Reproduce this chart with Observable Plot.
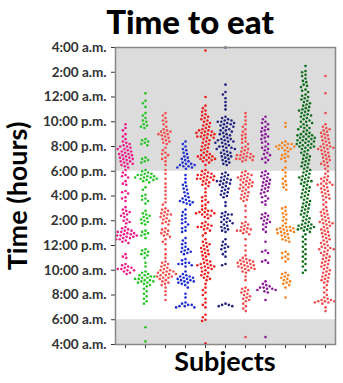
<!DOCTYPE html>
<html><head><meta charset="utf-8">
<script src="https://cdn.jsdelivr.net/npm/d3@7"></script>
<script src="https://cdn.jsdelivr.net/npm/@observablehq/plot@0.6"></script>
<style>
body{margin:0;background:#fff;font-family:Lato,"Open Sans",sans-serif}
#wrap{position:relative;width:343px;height:383px;overflow:hidden}
#title{position:absolute;left:0;top:3px;width:380px;text-align:center;font-size:33px;line-height:36px;font-weight:900;color:#000}
#ylab{position:absolute;left:-83px;top:181px;width:200px;height:30px;line-height:30px;text-align:center;font-size:27px;font-weight:700;color:#000;transform:rotate(-90deg)}
#xlab{position:absolute;left:111px;top:346px;width:228px;text-align:center;font-size:27px;line-height:30px;font-weight:700;color:#000}
#chart{position:absolute;left:0;top:40px}
</style></head>
<body><div id="wrap"><div id="title">Time to eat</div><div id="chart"></div><div id="ylab">Time (hours)</div><div id="xlab">Subjects</div></div>
<script>
const subjects = ["1","2","3","4","5","6","7","8","9","10","11"];
const colors = ["#ec1c8c","#27c427","#f0504e","#1f2fd0","#ee1f1f","#1f237f","#ef4d4d","#8b1a9a","#f7831f","#0f6e1a","#ef4d4d"];
const yTicks = [4,6,8,10,12,14,16,18,20,22,24,26,28];
const yTickLabels = ["4:00 a.m.","6:00 a.m.","8:00 a.m.","10:00 a.m.","12:00 p.m.","2:00 p.m.","4:00 p.m.","6:00 p.m.","8:00 p.m.","10:00 p.m.","12:00 a.m.","2:00 a.m.","4:00 a.m."];
const shaded = [{from: 18, to: 28}, {from: 4, to: 6}];

const s1 = [21.8,21.5,21.3,21.0,20.8,20.6,20.4,20.3,20.2,20.1,20.0,20.0,19.9,19.8,19.8,19.7,19.6,19.6,19.5,19.4,19.4,19.3,19.3,19.2,19.1,19.1,19.0,19.0,18.9,18.8,18.8,18.7,18.6,18.6,18.5,18.4,18.3,18.1,17.9,17.7,17.6,17.5,17.2,17.0,16.9,16.4,16.3,16.2,15.9,15.8,15.6,15.1,14.9,14.8,14.7,14.6,14.5,14.4,14.3,14.1,14.0,13.9,13.8,13.5,13.4,13.3,13.2,13.2,13.1,13.1,13.0,13.0,12.9,12.9,12.8,12.8,12.8,12.7,12.7,12.6,12.6,12.5,12.5,12.4,12.3,12.2,11.3,11.1,11.0,10.5,10.4,10.3,10.2,10.2,10.1,10.1,10.0,10.0,9.9,9.8,9.7];
const s2 = [24.3,23.7,23.5,23.2,22.7,22.5,22.3,22.1,22.0,21.8,21.7,21.6,21.5,20.6,20.5,20.4,20.3,20.2,20.1,19.1,19.0,18.9,18.8,18.7,18.1,18.0,17.9,17.8,17.8,17.7,17.7,17.6,17.6,17.5,17.5,17.5,17.4,17.4,17.3,17.3,17.2,17.1,16.7,16.5,16.1,16.0,15.8,15.7,15.6,15.4,14.8,14.6,14.5,14.4,14.3,14.2,14.1,14.0,13.9,13.8,13.7,13.2,13.1,13.0,12.9,12.8,12.6,11.7,11.6,11.5,11.4,11.3,11.2,11.0,10.6,10.3,9.9,9.8,9.7,9.6,9.6,9.5,9.5,9.4,9.4,9.3,9.3,9.2,9.2,9.1,9.1,9.0,9.0,8.9,8.8,8.7,8.5,8.3,8.1,7.9,7.7,7.5,7.3,5.4,4.25];
const s3 = [22.7,22.5,22.3,22.1,22.0,21.8,21.6,21.4,21.3,21.2,21.2,21.1,21.0,21.0,20.9,20.8,20.7,20.6,20.5,20.4,20.3,20.2,19.9,19.7,19.5,19.4,19.3,19.1,19.0,18.8,18.5,18.1,17.8,17.4,17.0,16.7,16.4,16.1,15.8,15.5,15.3,15.0,14.9,14.8,14.7,14.6,14.5,14.5,14.4,14.3,14.2,14.1,14.0,13.9,13.8,13.7,13.4,13.3,13.2,13.1,13.0,12.9,12.8,12.7,12.5,12.3,12.1,11.7,11.3,11.0,10.7,10.6,10.5,10.4,10.3,10.2,10.1,10.0,10.0,9.9,9.9,9.8,9.8,9.7,9.7,9.6,9.6,9.5,9.5,9.4,9.4,9.3,9.2,9.1,9.0,8.9,8.8,8.6,8.3,8.0,7.6];
const s4 = [20.4,20.2,20.0,19.8,19.7,19.5,19.4,19.2,19.1,19.0,18.9,18.8,18.7,18.6,18.6,18.5,18.5,18.4,18.4,18.3,18.3,18.2,17.7,17.4,17.1,16.9,16.8,16.6,16.5,16.3,16.2,16.0,15.9,15.8,15.7,15.6,15.6,15.5,15.5,15.4,15.3,14.9,14.7,14.5,14.4,14.2,14.1,13.9,13.8,13.7,13.5,13.4,13.2,13.1,12.6,12.4,12.2,12.1,11.9,11.8,11.7,11.6,11.5,11.5,11.4,11.3,10.9,10.8,10.6,10.6,10.5,10.5,10.4,10.3,9.9,9.7,9.6,9.5,9.5,9.4,9.4,9.3,9.3,9.2,9.2,9.1,9.1,9.0,9.0,8.9,8.8,8.6,8.1,7.8,7.4,7.3,7.2,7.2,7.1,7.1,7.0,7.0];
const s5 = [27.75,24.0,23.3,23.1,22.9,22.8,22.6,22.5,22.4,22.3,22.2,22.1,22.0,21.9,21.8,21.7,21.6,21.5,21.4,21.3,21.3,21.2,21.2,21.1,21.1,21.0,21.0,20.9,20.9,20.8,20.8,20.7,20.7,20.6,20.5,20.4,20.3,20.2,20.1,20.0,19.9,19.8,19.7,19.6,19.5,19.4,19.3,19.3,19.2,19.2,19.1,19.1,19.0,19.0,18.9,18.9,18.8,18.7,18.5,18.1,18.0,17.9,17.8,17.8,17.7,17.7,17.6,17.6,17.5,17.5,17.4,17.4,17.3,17.3,17.2,17.1,17.0,16.9,16.8,16.6,16.3,16.0,15.9,15.7,15.6,15.5,15.3,15.2,15.0,14.9,14.8,14.8,14.7,14.7,14.6,14.6,14.5,14.5,14.4,14.3,14.2,13.9,13.8,13.7,13.6,13.6,13.5,13.5,13.4,13.3,13.2,13.0,12.8,12.5,12.3,12.2,12.1,12.0,11.9,11.8,11.7,11.6,11.5,11.4,11.3,11.2,11.1,10.9,10.8,10.7,10.6,10.5,10.5,10.4,10.4,10.3,10.3,10.2,10.2,10.1,10.0,9.9,9.8,9.7,9.6,9.5,9.4,9.3,9.2,8.9,8.6,8.4,8.2,8.0,7.7,7.4,7.2,7.0,6.4,6.2,6.0,5.9,4.1];
const s6 = [28.0,25.0,24.4,24.2,23.9,23.6,23.3,23.0,22.4,22.3,22.2,22.1,22.1,22.0,22.0,21.9,21.9,21.8,21.8,21.7,21.6,21.6,21.5,21.4,21.3,21.3,21.2,21.1,21.0,21.0,20.9,20.8,20.7,20.6,20.6,20.5,20.5,20.4,20.4,20.3,20.3,20.2,20.1,20.0,20.0,19.9,19.9,19.8,19.8,19.7,19.6,19.5,19.5,19.4,19.3,19.2,19.2,19.1,19.0,18.9,18.8,18.7,18.6,18.5,17.9,17.8,17.7,17.6,17.5,17.4,17.3,17.3,17.2,17.2,17.1,17.0,17.0,16.9,16.8,16.7,16.6,16.5,16.4,16.3,16.2,16.1,16.0,15.9,15.5,15.2,14.7,14.6,14.5,14.5,14.4,14.3,14.2,14.1,14.0,13.9,13.9,13.8,13.7,13.6,13.5,13.4,13.3,13.2,13.1,12.5,12.3,12.1,12.0,11.9,11.8,11.7,11.5,11.3,11.1,10.5,10.4,7.3,7.2,7.2,7.1,7.1];
const s7 = [22.7,22.4,22.1,21.8,21.6,21.4,21.2,21.0,20.9,20.7,20.6,20.4,20.3,20.2,20.0,19.9,19.8,19.7,19.6,19.5,19.4,19.4,19.3,19.3,19.2,19.2,19.1,19.1,19.0,19.0,18.9,18.9,18.8,18.0,17.9,17.8,17.7,17.7,17.6,17.5,17.5,17.4,17.3,17.3,17.2,17.1,17.1,17.0,16.9,16.9,16.8,16.7,16.7,16.6,16.5,16.4,16.3,16.2,16.1,16.0,15.9,15.8,15.7,15.6,15.2,14.8,14.3,13.9,13.8,13.7,13.6,13.5,13.4,13.3,13.3,13.2,13.2,13.1,13.0,12.9,12.5,12.0,11.6,11.2,11.0,10.9,10.8,10.8,10.7,10.7,10.6,10.6,10.5,10.5,10.4,10.4,10.3,10.3,10.2,10.2,10.1,10.1,10.0,9.9,9.8,9.5,9.2,8.6,8.5,8.4,8.3,8.2,8.1,8.0,7.9,7.8,7.7,7.6,7.5,7.3,7.1,6.9,6.7,4.6];
const s8 = [22.4,22.2,22.0,21.9,21.8,21.6,21.5,21.4,21.3,21.2,21.0,20.9,20.8,20.7,20.6,20.4,20.3,20.2,20.0,19.9,19.8,19.7,19.5,19.4,19.3,19.1,19.0,18.9,18.7,18.0,17.9,17.8,17.7,17.6,17.5,17.4,17.3,17.2,17.1,17.0,16.9,16.8,16.7,16.6,16.5,16.4,16.3,16.2,16.0,15.9,15.8,15.6,15.5,15.3,14.6,14.5,14.4,14.3,14.2,14.1,14.0,13.9,13.8,13.7,13.5,13.3,13.1,12.3,11.6,11.5,11.4,10.8,10.7,10.6,9.1,8.9,8.8,8.7,8.6,8.6,8.5,8.5,8.4,8.4,8.3,8.2,7.6,4.6];
const s9 = [21.9,21.6,20.4,20.3,20.2,20.2,20.1,20.1,20.0,20.0,19.9,19.9,19.8,19.8,19.7,19.6,19.4,19.3,19.2,19.1,19.0,18.8,18.3,18.1,17.9,17.6,17.4,17.2,17.0,16.9,16.7,16.5,15.1,15.0,14.8,14.6,14.5,14.3,14.1,14.0,13.8,13.6,13.5,13.5,13.4,13.4,13.3,13.3,13.2,13.2,13.1,13.1,13.0,13.0,12.9,12.8,12.7,12.6,12.5,12.4,12.3,11.5,11.4,11.3,11.1,11.0,10.9,10.7,9.8,9.7,9.6,9.5,9.4,9.3,9.2,9.1,9.0,8.9,8.8,8.6,7.8];
const s10 = [26.5,26.1,26.0,25.8,25.7,25.5,25.3,25.2,25.0,24.9,24.8,24.6,24.5,24.4,24.2,24.1,24.0,23.9,23.8,23.7,23.6,23.5,23.4,23.3,23.2,23.1,23.0,22.9,22.9,22.8,22.7,22.6,22.5,22.5,22.4,22.3,22.2,22.1,22.0,22.0,21.9,21.8,21.7,21.6,21.5,21.5,21.4,21.3,21.2,21.1,21.0,21.0,20.9,20.9,20.8,20.8,20.7,20.7,20.6,20.6,20.5,20.5,20.4,20.4,20.3,20.3,20.2,20.2,20.1,20.1,20.0,20.0,19.9,19.9,19.8,19.7,19.6,19.5,19.4,19.3,19.2,19.1,19.0,18.9,18.8,18.7,18.6,18.5,18.4,18.3,18.2,18.1,18.0,17.9,17.8,17.7,17.6,17.5,17.5,17.4,17.3,17.2,17.2,17.1,17.0,16.9,16.8,16.7,16.6,16.5,16.4,16.3,16.2,16.1,16.0,15.9,15.8,15.7,15.6,15.5,15.4,15.3,15.2,15.1,15.0,14.9,14.8,14.7,14.6,14.5,14.4,14.3,14.2,14.1,14.0,13.9,13.8,13.7,13.7,13.6,13.6,13.5,13.5,13.4,13.4,13.3,13.3,13.2,13.1,12.9,12.7,12.5,12.3,12.1,11.9,11.7,11.5,11.3,11.1,10.9,10.7,10.5,10.3,10.0,9.8];
const s11 = [25.7,24.3,22.7,21.8,21.6,21.5,21.4,21.3,21.2,21.1,21.0,20.9,20.8,20.7,20.6,20.5,20.4,20.3,20.2,20.1,20.0,20.0,19.9,19.9,19.8,19.8,19.7,19.6,19.5,19.4,19.3,19.2,19.1,19.0,18.9,18.8,18.7,18.6,18.5,18.4,18.2,18.0,17.8,17.6,17.5,17.4,17.3,17.2,17.1,17.0,17.0,16.9,16.9,16.8,16.7,16.6,16.5,16.4,16.3,16.2,16.1,16.0,15.9,15.8,15.7,15.5,15.3,15.1,14.9,14.8,14.7,14.6,14.5,14.4,14.3,14.2,14.1,14.0,13.9,13.9,13.8,13.8,13.7,13.6,13.5,13.4,13.3,13.2,13.1,13.0,12.9,12.8,12.7,12.6,12.5,12.4,12.3,12.2,12.1,12.0,11.9,11.8,11.8,11.7,11.7,11.6,11.5,11.4,11.3,11.2,11.1,11.0,10.9,10.8,10.7,10.6,10.5,10.4,10.3,10.2,10.1,10.0,9.9,9.8,9.7,9.6,9.5,9.4,9.3,9.2,9.1,9.0,8.8,8.6,8.4,8.2,8.0,7.8,7.7,7.6,7.6,7.5,7.5,7.5,7.4,7.4,7.3,7.0,6.7];
const series = [s1,s2,s3,s4,s5,s6,s7,s8,s9,s10,s11];

const data = series.flatMap((vals, i) => vals.map(t => ({subject: subjects[i], time: t})));

const chart = Plot.plot({
  width: 343, height: 343,
  marginTop: 7, marginBottom: 39, marginLeft: 111, marginRight: 4,
  style: {fontFamily: "Lato, sans-serif", fontSize: "13.5px", fontWeight: 700, color: "#333", background: "#fff"},
  fx: {domain: subjects, padding: 0, axis: "bottom", tickSize: 4, tickFormat: () => "", label: null},
  y: {domain: [4, 28], ticks: yTicks, tickFormat: d => yTickLabels[yTicks.indexOf(d)], tickSize: 4, label: null},
  color: {domain: subjects, range: colors},
  marks: [
    Plot.rectY(shaded, {y1: "from", y2: "to", fill: "#dcdcdc"}),
    Plot.dot(data, Plot.dodgeX("middle", {fx: "subject", y: "time", r: 1.3, padding: 0.5, fill: "subject"})),
    Plot.frame({facet: "super", stroke: "#888", strokeWidth: 1.5})
  ]
});
document.getElementById("chart").appendChild(chart);
</script></body></html>
